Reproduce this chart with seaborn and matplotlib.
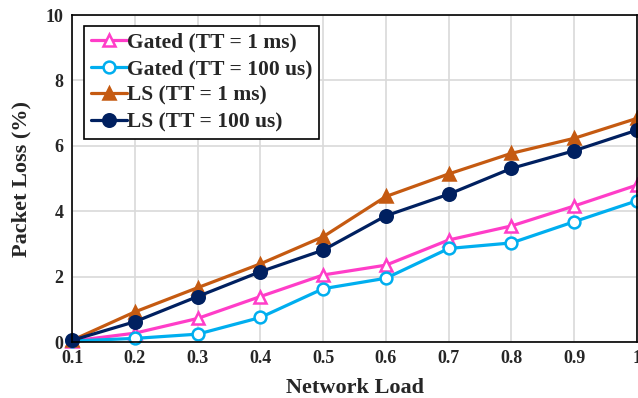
import numpy as np
import pandas as pd
import seaborn as sns
import matplotlib
matplotlib.use("Agg")
import matplotlib.pyplot as plt

# Network load levels and packet loss (%) for each scheme
load = [0.1, 0.2, 0.3, 0.4, 0.5, 0.6, 0.7, 0.8, 0.9, 1.0]
gated_1ms = [0.03, 0.27, 0.72, 1.39, 2.05, 2.35, 3.12, 3.55, 4.16, 4.80]
gated_100us = [0.03, 0.11, 0.24, 0.75, 1.63, 1.95, 2.86, 3.03, 3.68, 4.32]
ls_1ms = [0.05, 0.92, 1.66, 2.39, 3.22, 4.45, 5.14, 5.77, 6.23, 6.84]
ls_100us = [0.05, 0.62, 1.39, 2.15, 2.81, 3.86, 4.52, 5.31, 5.85, 6.48]

series_names = ["Gated (TT = 1 ms)", "Gated (TT = 100 us)", "LS (TT = 1 ms)", "LS (TT = 100 us)"]
series_values = [gated_1ms, gated_100us, ls_1ms, ls_100us]
x_tick_labels = ["0.1", "0.2", "0.3", "0.4", "0.5", "0.6", "0.7", "0.8", "0.9", "1"]
y_ticks = [0, 2, 4, 6, 8, 10]

df = pd.DataFrame({
    "Network Load": np.tile(load, len(series_names)),
    "Packet Loss (%)": np.concatenate(series_values),
    "Scheme": np.repeat(series_names, len(load)),
})

sns.set_theme(style="white")
plt.rcParams["font.family"] = ["Liberation Serif", "DejaVu Serif"]
plt.rcParams["font.weight"] = "bold"

colors = {
    "Gated (TT = 1 ms)": "#FF3DC8",
    "Gated (TT = 100 us)": "#00AEEF",
    "LS (TT = 1 ms)": "#C55A11",
    "LS (TT = 100 us)": "#002060",
}
markers = {
    "Gated (TT = 1 ms)": "^",
    "Gated (TT = 100 us)": "o",
    "LS (TT = 1 ms)": "^",
    "LS (TT = 100 us)": "o",
}

fig = plt.figure(figsize=(6.38, 3.98), dpi=100)
ax = fig.add_axes([0.1129, 0.1407, 0.8856, 0.8216])

sns.lineplot(data=df, x="Network Load", y="Packet Loss (%)", hue="Scheme",
             style="Scheme", palette=colors, markers=markers, dashes=False,
             hue_order=series_names, style_order=series_names,
             linewidth=2.3, markersize=8, markeredgewidth=1.8, ax=ax,
             legend=False)

# Open markers for the gated schemes, filled for LS
handles = []
for line, name in zip(ax.get_lines(), series_names):
    c = colors[name]
    line.set_markeredgecolor(c)
    if name.startswith("Gated"):
        line.set_markerfacecolor("white")
        line.set_markersize(8.5)
    else:
        line.set_markerfacecolor(c)
        line.set_markersize(9 if markers[name] == "o" else 8.5)
    line.set_clip_on(False)
    handles.append(line)

ax.set_xlim(0.1, 1.0)
ax.set_ylim(0, 10)
ax.set_xticks(load)
ax.set_xticklabels(x_tick_labels)
ax.set_yticks(y_ticks)
ax.set_yticklabels([str(v) for v in y_ticks])
ax.tick_params(axis="both", labelsize=13, length=0, pad=6)
for lbl in ax.get_xticklabels() + ax.get_yticklabels():
    lbl.set_fontweight("bold")

ax.grid(True, color="#d9d9d9", linewidth=1.2)
ax.set_axisbelow(True)
for spine in ax.spines.values():
    spine.set_color("black")
    spine.set_linewidth(1.2)

ax.set_xlabel("Network Load", fontsize=16, fontweight="bold", labelpad=8)
ax.set_ylabel("Packet Loss (%)", fontsize=16, fontweight="bold", labelpad=10)

leg = ax.legend(handles, series_names, loc="upper left",
                bbox_to_anchor=(0.01, 0.985), frameon=True, fancybox=False,
                edgecolor="black", framealpha=1,
                handlelength=1.7, handletextpad=0.0, labelspacing=0.3,
                borderpad=0.3, borderaxespad=0.3,
                prop={"weight": "bold", "size": 15.5})
leg.get_frame().set_linewidth(1.2)

fig.savefig("out.png", dpi=100)
